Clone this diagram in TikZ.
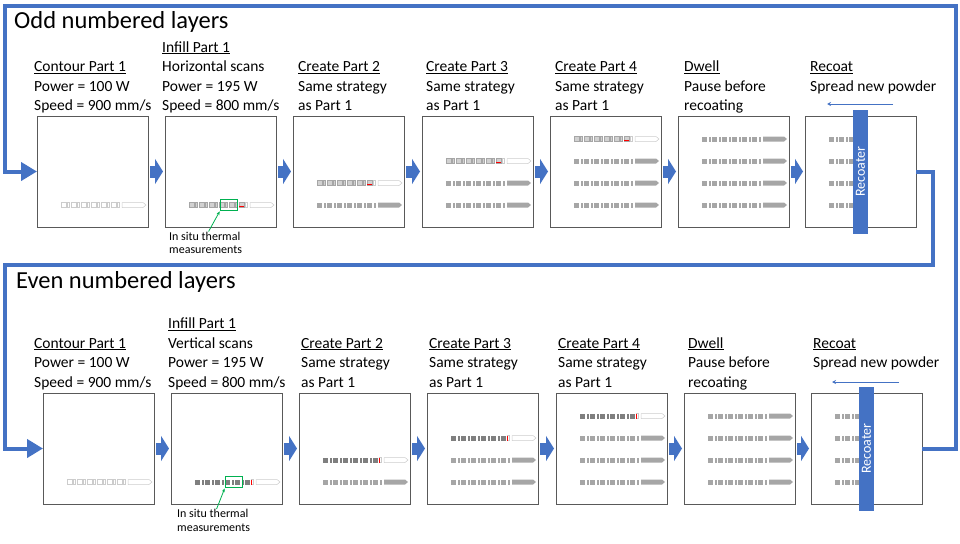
\documentclass[tikz,border=0pt]{standalone}
\usepackage{fontspec}
\setmainfont{Carlito}
\usetikzlibrary{arrows.meta,calc,positioning}
\definecolor{flowblue}{HTML}{4472C4}
\definecolor{scangray}{HTML}{A6A6A6}
\definecolor{scandark}{HTML}{7F7F7F}
\definecolor{sensegreen}{HTML}{00B050}

\newcommand{\scanrow}[5]{%
  \begin{scope}[shift={($(#1.north west)+(24,23+22*#2)$)}]
    \foreach \a/\b in {0/5,6.5/8.5,10/15,16.5/18.5,20/25,26.5/28.5,30/35,36.5/38.5,40/45,46.5/48.5,50/55,56.5/58.5}{%
      \pgfmathtruncatemacro\isdone{\a<#5}%
      \ifnum\isdone=1 \draw[#3] (\a,-2.5) rectangle (\b,2.5);%
      \else \draw[#4] (\a,-2.5) rectangle (\b,2.5);\fi}
    \pgfmathtruncatemacro\isdone{61<#5}%
    \ifnum\isdone=1 \draw[#3] (61,-2.5) -- (82,-2.5) -- (85,0) -- (82,2.5) -- (61,2.5) -- cycle;%
    \else \draw[#4] (61,-2.5) -- (82,-2.5) -- (85,0) -- (82,2.5) -- (61,2.5) -- cycle;\fi
  \end{scope}}
\newcommand{\hmark}[2]{\draw[cut] ($(#1.north west)+(74,24.5+22*#2)$) -- ++(5,0);}
\newcommand{\vmark}[2]{\draw[cut] ($(#1.north west)+(79.7,20.5+22*#2)$) -- ++(0,5);}

\begin{document}
\begin{tikzpicture}[x=1pt,y=-1pt,
  panel/.style={draw=black!65, line width=0.8pt, minimum width=111pt, minimum height=111pt, inner sep=0pt, outer sep=0pt, anchor=north west},
  head/.style={anchor=base west, align=left, inner sep=0pt, font=\fontsize{15.5}{19.5}\selectfont},
  title/.style={anchor=base west, inner sep=0pt, font=\fontsize{24.5}{28}\selectfont},
  note/.style={anchor=base west, align=left, inner sep=0pt, font=\fontsize{12}{13.5}\selectfont},
  stepper/.style={flowblue, line width=12pt, -{Triangle[width=25pt,length=8pt]}, shorten <=2pt, shorten >=2pt},
  loopline/.style={flowblue, line width=4pt, -{Triangle[width=18pt,length=16pt]}},
  coater/.style={fill=flowblue, text=white, rotate=90, minimum width=124pt, minimum height=15pt, inner sep=0pt, font=\fontsize{14}{16}\selectfont},
  sweep/.style={flowblue, line width=0.8pt, -{Stealth[length=4pt,width=4pt]}},
  trkopen/.style={draw=black!20, fill=white, line width=0.5pt},
  trkhalf/.style={draw=black!35, fill=black!18, line width=0.5pt},
  trkfill/.style={draw=none, fill=scangray},
  trkdark/.style={draw=none, fill=scandark},
  probe/.style={draw=sensegreen, line width=1.5pt, minimum width=17pt, minimum height=11pt, inner sep=0pt},
  probeline/.style={sensegreen, line width=0.8pt, -{Stealth[length=4pt]}},
  cut/.style={red, line width=0.4pt}]
\useasboundingbox (0,0) rectangle (960,543);

\node[title] (odd) at (14,29) {Odd numbered layers};
\node[title] (even) at (16,288) {Even numbered layers};

\foreach \i/\x in {1/37,2/165,3/293,4/422,5/550,6/678,7/805}
  \node[panel] (o\i) at (\x,116) {};
\foreach \i/\x in {1/43,2/171,3/299,4/427,5/556,6/684,7/811}
  \node[panel] (e\i) at (\x,393) {};

\node[head] (ho1) at (34,110.5) {\underline{Contour Part 1}\\Power = 100 W\\Speed = 900 mm/s};
\node[head] (ho2) at (162,110.5) {\underline{Infill Part 1}\\Horizontal scans\\Power = 195 W\\Speed = 800 mm/s};
\node[head] (ho3) at (298,110.5) {\underline{Create Part 2}\\Same strategy\\as Part 1};
\node[head] (ho4) at (426,110.5) {\underline{Create Part 3}\\Same strategy\\as Part 1};
\node[head] (ho5) at (555,110.5) {\underline{Create Part 4}\\Same strategy\\as Part 1};
\node[head] (ho6) at (684,110.5) {\underline{Dwell}\\Pause before\\recoating};
\node[head] (ho7) at (810,91) {\underline{Recoat}\\Spread new powder};

\node[head] (he1) at (34,387) {\underline{Contour Part 1}\\Power = 100 W\\Speed = 900 mm/s};
\node[head] (he2) at (168,387) {\underline{Infill Part 1}\\Vertical scans\\Power = 195 W\\Speed = 800 mm/s};
\node[head] (he3) at (301,387) {\underline{Create Part 2}\\Same strategy\\as Part 1};
\node[head] (he4) at (429,387) {\underline{Create Part 3}\\Same strategy\\as Part 1};
\node[head] (he5) at (558,387) {\underline{Create Part 4}\\Same strategy\\as Part 1};
\node[head] (he6) at (688,387) {\underline{Dwell}\\Pause before\\recoating};
\node[head] (he7) at (813,367.5) {\underline{Recoat}\\Spread new powder};

\scanrow{o1}{3}{trkopen}{trkopen}{0}
\scanrow{e1}{3}{trkopen}{trkopen}{0}
\foreach \p/\k in {2/3,3/2,4/1,5/0}{\scanrow{o\p}{\k}{trkhalf}{trkopen}{55.7}\hmark{o\p}{\k}}
\foreach \p/\k in {2/3,3/2,4/1,5/0}{\scanrow{e\p}{\k}{trkdark}{trkopen}{55.7}\vmark{e\p}{\k}}
\foreach \p/\k in {3/3,4/2,4/3,5/1,5/2,5/3,6/0,6/1,6/2,6/3}{%
  \scanrow{o\p}{\k}{trkfill}{trkfill}{99}
  \scanrow{e\p}{\k}{trkfill}{trkfill}{99}}

\begin{scope}
  \clip (o7.north west) rectangle ($(o7.south)+(-7.5,0)$);
  \foreach \k in {0,...,3}{\scanrow{o7}{\k}{trkfill}{trkfill}{99}}
\end{scope}
\begin{scope}
  \clip (e7.north west) rectangle ($(e7.south)+(-7.5,0)$);
  \foreach \k in {0,...,3}{\scanrow{e7}{\k}{trkfill}{trkfill}{99}}
\end{scope}

\node[coater] (rco) at (o7.center) {Recoater};
\node[coater] (rce) at (e7.center) {Recoater};
\coordinate (swo1) at ($(o7.north west)+(88,-12)$);
\coordinate (swo2) at ($(o7.north west)+(22,-12)$);
\coordinate (swe1) at ($(e7.north west)+(88,-11)$);
\coordinate (swe2) at ($(e7.north west)+(21,-11)$);
\draw[sweep] (swo1) -- (swo2);
\draw[sweep] (swe1) -- (swe2);

\node[probe] (gbo) at ($(o2.north west)+(64,89)$) {};
\node[probe] (gbe) at ($(e2.north west)+(63,89)$) {};
\node[note] (situo) at (169,253.5) {In situ thermal\\measurements};
\node[note] (situe) at (177,531) {In situ thermal\\measurements};
\draw[probeline] ([xshift=3pt]situo.north) -- (gbo.south west);
\draw[probeline] ([xshift=3pt]situe.north) -- (gbe.south west);

\foreach \i [evaluate=\i as \j using int(\i+1)] in {1,...,6}{
  \draw[stepper] (o\i) -- (o\j);
  \draw[stepper] (e\i) -- (e\j);}

\coordinate (ne) at (956,6);
\coordinate (nw) at (4.5,6);
\coordinate (se) at (933,265);
\draw[loopline] (e7.east) -| (ne) -| (nw |- o1.west) -- (o1.west);
\draw[loopline] (o7.east) -| (se) -| (nw |- e1.west) -- (e1.west);
\end{tikzpicture}
\end{document}
